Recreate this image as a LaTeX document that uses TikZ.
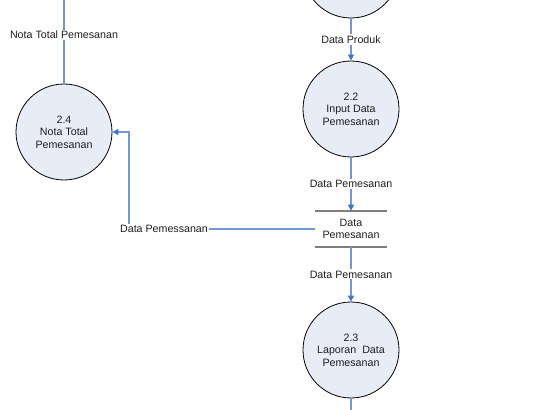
\documentclass[tikz,border=0pt]{standalone}
\usepackage{fontspec}
\setmainfont{Liberation Sans}
\usetikzlibrary{arrows.meta}
\definecolor{flow}{HTML}{7398CF}
\definecolor{tipblue}{HTML}{4472C4}
\definecolor{bubble}{HTML}{E7ECF6}
\definecolor{storegray}{HTML}{7F7F7F}
\definecolor{ink}{HTML}{1E1E1E}

\begin{document}
\begin{tikzpicture}[x=0.75pt,y=-0.75pt,font=\fontsize{8}{9.5}\selectfont,
  proc/.style={circle,draw=black,line width=.6pt,fill=bubble,minimum size=72pt,
    inner sep=0pt,align=center,text=ink},
  flowline/.style={flow,line width=.9pt},
  flowarrow/.style={flowline,-{Triangle[length=4.5pt,width=4.5pt,color=tipblue]}},
  lbl/.style={fill=white,inner sep=1pt,text=ink}]
  \clip (0,0) rectangle (558,410);

  % processes
  \node[proc] (p21) at (351,-30) {};
  \node[proc] (p22) at (351,109) {2.2\\Input Data\\Pemesanan};
  \node[proc] (p23) at (351,350) {2.3\\Laporan\ \ Data\\Pemesanan};
  \node[proc] (p24) at (64,132) {2.4\\Nota Total\\Pemesanan};

  % data store
  \node[minimum width=54pt,minimum height=27pt,inner sep=0pt,align=center,text=ink]
    (store) at (351,229) {Data\\Pemesanan};
  \draw[storegray,line width=1.5pt] (store.north west) -- (store.north east);
  \draw[storegray,line width=1.5pt] (store.south west) -- (store.south east);

  % flows
  \coordinate (top) at (64,0);
  \coordinate (bottom) at (351,410);
  \coordinate (bend) at (129,229);
  \draw[flowline] (top) -- node[lbl,pos=.42] {Nota Total Pemesanan} (p24.north);
  \draw[flowarrow] (p21.south) -- node[lbl] {Data Produk} (p22.north);
  \draw[flowarrow] (p22.south) -- node[lbl] {Data Pemesanan} (store.north);
  \draw[flowarrow] (store.south) -- node[lbl] {Data Pemesanan} (p23.north);
  \draw[flowline] (p23.south) -- (bottom);
  \draw[flowarrow] (store.west) -- (bend) |- (p24.east);
  \node[lbl] (pemess) at (164,229) {Data Pemessanan};
\end{tikzpicture}
\end{document}
